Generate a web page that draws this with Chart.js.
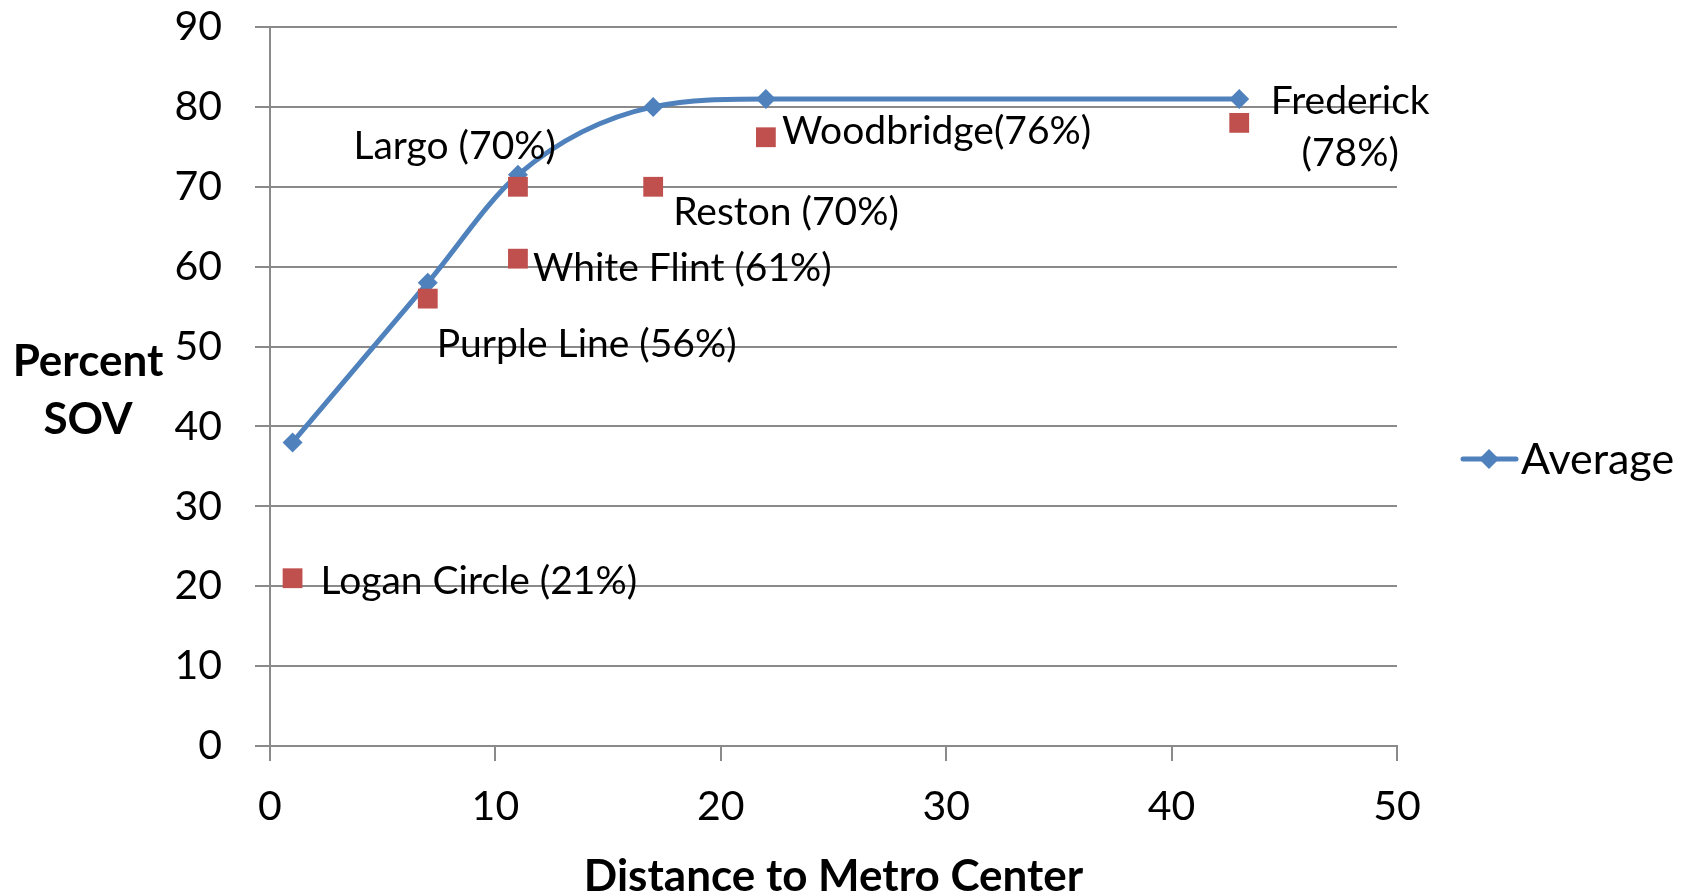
<!DOCTYPE html>
<html><head><meta charset="utf-8">
<script src="https://cdn.jsdelivr.net/npm/chart.js@4.4.1/dist/chart.umd.min.js"></script>
<style>html,body{margin:0;padding:0;background:#fff;overflow:hidden}canvas{display:block}</style>
</head><body>
<canvas id="c" width="1698" height="895"></canvas>
<script>
// ---- data ----
const avgDistance = [1, 7, 11, 17, 22, 43];
const avgPercent  = [38, 58, 71.5, 80, 81, 81];
const siteNames    = ['Logan Circle (21%)', 'Purple Line (56%)', 'Largo (70%)', 'White Flint (61%)', 'Reston (70%)', 'Woodbridge(76%)', ['Frederick', '(78%)']];
const siteDistance = [1, 7, 11, 11, 17, 22, 43];
const sitePercent  = [21, 56, 70, 61, 70, 76.2, 78];
const xTicks = [0, 10, 20, 30, 40, 50];
const yTicks = [0, 10, 20, 30, 40, 50, 60, 70, 80, 90];
const seriesName = 'Average';
const xTitle = 'Distance to Metro Center';
const yTitle = ['Percent', 'SOV'];

// label placement relative to each site marker (pixels)
const labelPlacement = [
  {dx: 28, dy: 2, align: 'left'},
  {dx: 9, dy: 44, align: 'left'},
  {dx: 38, dy: -42, align: 'right'},
  {dx: 15, dy: 8, align: 'left'},
  {dx: 20, dy: 24, align: 'left'},
  {dx: 16, dy: -7, align: 'left'},
  {dx: 111, dy: -23, align: 'center', lineGap: 52}
];

const BLUE = '#4F81BD', RED = '#C0504D', GRID = '#8A8A8A', FONT = 'Lato';

const labelPlugin = {
  id: 'siteLabels',
  afterDatasetsDraw(chart) {
    const meta = chart.getDatasetMeta(1);
    const ctx = chart.ctx;
    const size = 39;
    ctx.save();
    ctx.fillStyle = '#000';
    ctx.font = size + 'px ' + FONT;
    ctx.textBaseline = 'alphabetic';
    meta.data.forEach((pt, i) => {
      const p = labelPlacement[i];
      const lines = Array.isArray(siteNames[i]) ? siteNames[i] : [siteNames[i]];
      ctx.textAlign = p.align;
      lines.forEach((ln, k) => {
        ctx.fillText(ln, pt.x + p.dx, pt.y + p.dy + 0.36 * size + k * (p.lineGap || 0));
      });
    });
    ctx.restore();
  },
  afterDraw(chart) {
    const ctx = chart.ctx;
    ctx.save();
    // y-axis title (horizontal, two lines)
    ctx.fillStyle = '#000';
    ctx.font = 'bold 44px ' + FONT;
    ctx.textAlign = 'center';
    ctx.textBaseline = 'alphabetic';
    ctx.fillText(yTitle[0], 88, 360 + 0.36 * 44);
    ctx.fillText(yTitle[1], 88, 418 + 0.36 * 44);
    // legend
    const ly = 459;
    ctx.strokeStyle = BLUE;
    ctx.lineWidth = 5;
    ctx.lineCap = 'round';
    ctx.beginPath(); ctx.moveTo(1463, ly); ctx.lineTo(1516, ly); ctx.stroke();
    ctx.fillStyle = BLUE;
    ctx.beginPath();
    ctx.moveTo(1489, ly - 10); ctx.lineTo(1499, ly); ctx.lineTo(1489, ly + 10); ctx.lineTo(1479, ly); ctx.closePath(); ctx.fill();
    ctx.fillStyle = '#000';
    ctx.font = '43px ' + FONT;
    ctx.textAlign = 'left';
    ctx.fillText(seriesName, 1521, ly + 0.36 * 43);
    ctx.restore();
  }
};

new Chart(document.getElementById('c'), {
  type: 'scatter',
  data: {
    datasets: [
      {
        label: seriesName,
        type: 'line',
        data: avgDistance.map((x, i) => ({x, y: avgPercent[i]})),
        borderColor: BLUE,
        backgroundColor: BLUE,
        borderWidth: 5,
        cubicInterpolationMode: 'monotone',
        pointStyle: 'rectRot',
        pointRadius: 10,
        pointBorderWidth: 0,
        pointBackgroundColor: BLUE,
        fill: false,
        clip: false,
        order: 1
      },
      {
        label: 'Sites',
        data: siteDistance.map((x, i) => ({x, y: sitePercent[i]})),
        pointStyle: 'rect',
        pointRadius: 14,
        pointBorderWidth: 0,
        backgroundColor: RED,
        pointBackgroundColor: RED,
        showLine: false,
        clip: false,
        order: 0
      }
    ]
  },
  options: {
    responsive: false,
    animation: false,
    devicePixelRatio: 1,
    layout: {padding: {left: 0, right: 301, top: 27, bottom: 0}},
    plugins: {legend: {display: false}, tooltip: {enabled: false}},
    scales: {
      x: {
        type: 'linear', min: 0, max: 50,
        afterBuildTicks: s => { s.ticks = xTicks.map(v => ({value: v})); },
        afterFit: s => { s.height = 149; s.paddingLeft = 0; s.paddingRight = 0; },
        grid: {drawOnChartArea: false, drawTicks: true, tickLength: 15, color: GRID, lineWidth: 2},
        border: {display: true, color: GRID, width: 2},
        ticks: {font: {family: FONT, size: 41}, color: '#000', padding: 21, maxRotation: 0},
        title: {display: true, text: xTitle, font: {family: FONT, size: 44, weight: 'bold'}, color: '#000', padding: {top: 0, bottom: -8}}
      },
      y: {
        type: 'linear', min: 0, max: 90,
        afterBuildTicks: s => { s.ticks = yTicks.map(v => ({value: v})); },
        afterFit: s => { s.width = 270; s.paddingTop = 0; s.paddingBottom = 0; },
        grid: {drawOnChartArea: true, drawTicks: true, tickLength: 15, color: GRID, lineWidth: 2},
        border: {display: true, color: GRID, width: 2},
        ticks: {font: {family: FONT, size: 41}, color: '#000', padding: 33}
      }
    }
  },
  plugins: [labelPlugin]
});
</script>
</body></html>
